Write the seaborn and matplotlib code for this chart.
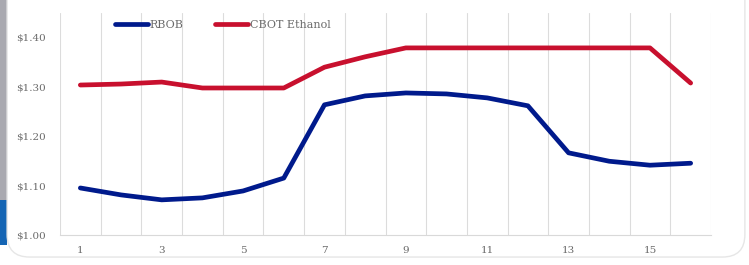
import numpy as np
import pandas as pd
import seaborn as sns
from matplotlib import pyplot as plt
from matplotlib import ticker
from matplotlib.patches import Rectangle, FancyBboxPatch

weeks = list(range(1, 17))
rbob = [1.095, 1.081, 1.071, 1.075, 1.089, 1.115, 1.263, 1.281,
        1.287, 1.285, 1.277, 1.261, 1.166, 1.149, 1.141, 1.145]
ethanol = [1.303, 1.305, 1.309, 1.297, 1.297, 1.297, 1.339, 1.360,
           1.378, 1.378, 1.378, 1.378, 1.378, 1.378, 1.378, 1.307]
series_names = ["RBOB", "CBOT Ethanol"]
x_ticks = [1, 3, 5, 7, 9, 11, 13, 15]
y_ticks = [1.00, 1.10, 1.20, 1.30, 1.40]

df = pd.DataFrame({
    "week": weeks * 2,
    "price": rbob + ethanol,
    "series": [series_names[0]] * 16 + [series_names[1]] * 16,
})

sns.set_style("white")
plt.rcParams["font.family"] = ["DejaVu Serif"]

fig = plt.figure(figsize=(7.49, 2.65), dpi=100)
fig.patch.set_facecolor("white")

# card background and left strips
fig.patches.append(Rectangle((0, 0.245), 0.0095, 0.755, transform=fig.transFigure,
                             facecolor="#a9a9b0", edgecolor="none", zorder=-2))
fig.patches.append(Rectangle((0, 0.075), 0.0095, 0.17, transform=fig.transFigure,
                             facecolor="#1565b4", edgecolor="none", zorder=-2))
fig.patches.append(FancyBboxPatch((0.0095, 0.03), 0.985, 1.1,
                                  boxstyle="round,pad=0,rounding_size=0.03",
                                  transform=fig.transFigure, facecolor="white",
                                  edgecolor="#e6e6e6", linewidth=1.0, zorder=-1,
                                  mutation_aspect=2.83))

ax = fig.add_axes([60 / 749, 30 / 265, 651 / 749, 222 / 265])
ax.set_facecolor("none")

sns.lineplot(data=df, x="week", y="price", hue="series",
             palette=["#001a8c", "#c8102e"], linewidth=3.4, ax=ax,
             legend=True)

ax.set_xlim(0.5, 16.5)
ax.set_ylim(1.0, 1.4485)
ax.set_xticks(x_ticks)
ax.set_xticks(np.arange(0.5, 17, 1), minor=True)
ax.set_yticks(y_ticks)
ax.yaxis.set_major_formatter(ticker.StrMethodFormatter("${x:.2f}"))
ax.grid(axis="x", which="minor", color="#dcdcdc", linewidth=0.8)
ax.grid(axis="y", visible=False)
ax.tick_params(axis="both", which="both", length=0, colors="#6a6a6a", labelsize=7.5)
ax.tick_params(axis="x", pad=8)
ax.tick_params(axis="y", pad=10)
for side in ["top", "right", "left"]:
    ax.spines[side].set_visible(False)
ax.spines["bottom"].set_color("#d9d9d9")
ax.set_xlabel("")
ax.set_ylabel("")

leg = ax.legend(loc="center left", bbox_to_anchor=(0.084, 0.946), ncol=2,
                frameon=False, fontsize=8, handlelength=3.0, handletextpad=0.15,
                columnspacing=2.8, borderaxespad=0, borderpad=0)
for t in leg.get_texts():
    t.set_color("#6a6a6a")

fig.savefig("out.png", dpi=100)
